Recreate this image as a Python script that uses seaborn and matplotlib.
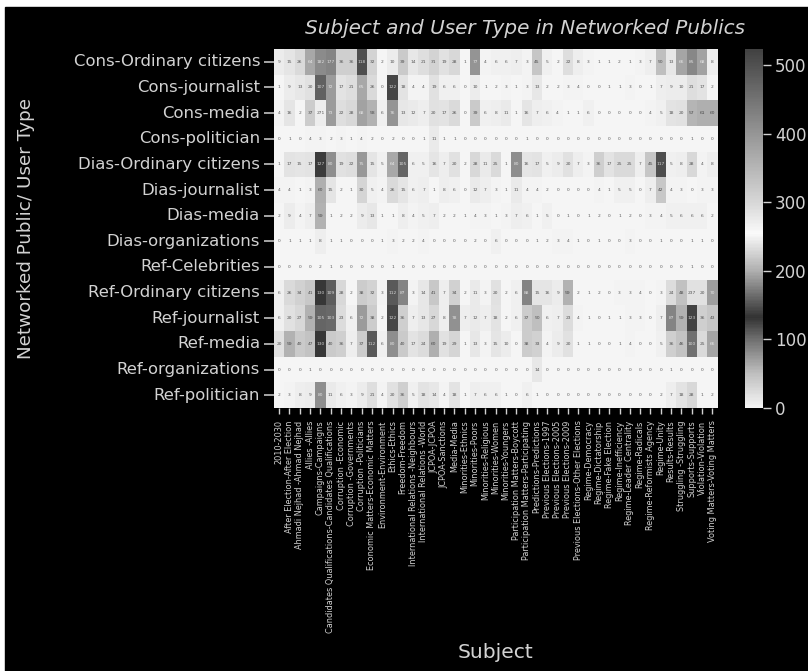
import matplotlib
matplotlib.use("Agg")
import matplotlib.pyplot as plt
from matplotlib.colors import LinearSegmentedColormap
from matplotlib.patches import Rectangle
import pandas as pd
import seaborn as sns

user_types = ["Cons-Ordinary citizens", "Cons-journalist", "Cons-media", "Cons-politician",
              "Dias-Ordinary citizens", "Dias-journalist", "Dias-media", "Dias-organizations",
              "Ref-Celebrities", "Ref-Ordinary citizens", "Ref-journalist", "Ref-media",
              "Ref-organizations", "Ref-politician"]

subjects = ["2010-2030", "After Election-After Election", "Ahmadi Nejhad -Ahmad Nejhad", "Allies -Allies",
            "Campaigns-Campaigns", "Candidates Qualifications-Candidates Qualifications",
            "Corruption -Economic", "Corruption -Governments", "Corruption -Politicians",
            "Economic Matters-Economic Matters", "Environment-Environment", "Ethics-Ethics",
            "Freedom-Freedom", "International Relations -Neighbours", "International Relations -World",
            "JCPOA-JCPOA", "JCPOA-Sanctions", "Media-Media", "Minorities-Ethnics", "Minorities-Poors",
            "Minorities-Religious", "Minorities-Women", "Minorities-Youngers", "Participation Matters-Boycott",
            "Participation Matters-Participating", "Predictions-Predictions", "Previous Elections-1997",
            "Previous Elections-2005", "Previous Elections-2009", "Previous Elections-Other Elections",
            "Regime-Democracy", "Regime-Dictatorship", "Regime-Fake Election", "Regime-Inefficiency",
            "Regime-Leader Centrality", "Regime-Radicals", "Regime-Reformists Agency", "Regime-Unity",
            "Results-Results", "Struggling -Struggling", "Supports-Supports", "Violation-Violation",
            "Voting Matters-Voting Matters"]

cons_ordinary = [9, 15, 26, 64, 182, 177, 36, 36, 118, 32, 2, 10, 39, 14, 21, 31, 19, 28, 1, 77, 4, 6,
                 6, 7, 3, 45, 5, 2, 22, 8, 3, 1, 1, 2, 1, 3, 7, 50, 13, 66, 85, 68, 8]
cons_journalist = [1, 9, 13, 20, 107, 72, 17, 21, 65, 26, 0, 122, 18, 4, 4, 19, 6, 6, 0, 10, 1, 2,
                   3, 1, 3, 13, 2, 2, 3, 4, 0, 0, 1, 1, 3, 0, 1, 7, 9, 10, 21, 17, 2]
cons_media = [4, 16, 2, 37, 271, 73, 22, 28, 68, 58, 6, 76, 13, 12, 7, 20, 17, 26, 0, 39, 6, 8,
              11, 1, 16, 7, 6, 4, 1, 1, 6, 0, 0, 0, 0, 0, 4, 5, 18, 20, 57, 61, 60]
cons_politician = [0, 1, 0, 4, 3, 2, 3, 1, 4, 2, 0, 2, 0, 0, 1, 11, 1, 1, 0, 0, 0, 0,
                   0, 0, 1, 0, 0, 0, 0, 0, 0, 0, 0, 0, 0, 0, 0, 0, 0, 0, 1, 0, 0]
dias_ordinary = [1, 17, 15, 17, 127, 80, 19, 22, 75, 15, 5, 64, 105, 6, 5, 16, 7, 20, 2, 28, 11, 25,
                 1, 80, 16, 17, 5, 9, 20, 7, 3, 36, 17, 25, 25, 7, 45, 117, 5, 8, 28, 4, 8]
dias_journalist = [4, 4, 1, 3, 60, 15, 2, 1, 30, 5, 4, 26, 15, 6, 7, 1, 8, 6, 0, 12, 7, 3,
                   1, 11, 4, 4, 2, 0, 0, 0, 0, 4, 1, 5, 5, 0, 7, 42, 4, 3, 0, 3, 3]
dias_media = [2, 9, 4, 7, 59, 1, 2, 2, 9, 13, 1, 1, 8, 4, 5, 7, 2, 2, 1, 4, 3, 1,
              3, 7, 6, 1, 5, 0, 1, 0, 1, 2, 0, 1, 2, 0, 3, 4, 5, 6, 6, 6, 2]
dias_orgs = [0, 1, 1, 1, 8, 1, 1, 0, 0, 0, 1, 3, 2, 2, 4, 0, 0, 0, 0, 2, 0, 6,
             0, 0, 0, 1, 2, 3, 4, 1, 0, 1, 0, 0, 3, 0, 0, 1, 0, 0, 1, 1, 0]
ref_celebrities = [0, 0, 0, 0, 2, 1, 0, 0, 0, 0, 0, 1, 0, 0, 0, 0, 0, 0, 0, 0, 0, 0,
                   0, 0, 0, 0, 0, 0, 0, 0, 0, 0, 0, 0, 0, 0, 0, 0, 0, 0, 1, 0, 0]
ref_ordinary = [6, 26, 34, 41, 130, 109, 28, 2, 38, 32, 3, 112, 87, 3, 14, 41, 7, 34, 2, 11, 3, 20,
                2, 6, 88, 15, 16, 9, 59, 2, 1, 2, 0, 3, 3, 4, 0, 3, 24, 48, 237, 20, 70]
ref_journalist = [6, 20, 27, 59, 105, 103, 23, 6, 72, 38, 2, 122, 36, 7, 13, 27, 8, 78, 7, 12, 7, 18,
                  2, 6, 37, 50, 6, 7, 23, 4, 1, 0, 1, 1, 3, 3, 0, 7, 87, 59, 123, 36, 43]
ref_media = [20, 59, 40, 47, 130, 40, 36, 7, 37, 112, 6, 80, 40, 17, 24, 60, 19, 29, 1, 13, 3, 15,
             10, 0, 38, 33, 4, 9, 20, 1, 1, 0, 0, 1, 4, 0, 0, 5, 36, 46, 100, 25, 66]
ref_orgs = [0, 0, 0, 1, 0, 0, 0, 0, 0, 0, 0, 0, 0, 0, 0, 0, 0, 0, 0, 0, 0, 0,
            0, 0, 0, 14, 0, 0, 0, 0, 0, 0, 0, 0, 0, 0, 0, 0, 1, 0, 0, 0, 0]
ref_politician = [2, 3, 8, 9, 80, 11, 6, 3, 9, 21, 4, 20, 36, 5, 18, 14, 4, 18, 1, 7, 6, 6,
                  1, 0, 6, 1, 0, 0, 0, 0, 0, 0, 0, 0, 0, 0, 0, 2, 7, 18, 28, 1, 2]

df = pd.DataFrame([cons_ordinary, cons_journalist, cons_media, cons_politician,
                   dias_ordinary, dias_journalist, dias_media, dias_orgs,
                   ref_celebrities, ref_ordinary, ref_journalist, ref_media,
                   ref_orgs, ref_politician], index=user_types, columns=subjects)

TXT = "#d2d2d2"
VMAX = 524

# colour scale went to grey in the scan, so it dips dark and comes back to white
stops = [(0, 245), (50, 190), (100, 110), (132, 50), (165, 110), (200, 175),
         (255, 250), (300, 215), (400, 150), (VMAX, 65)]
grey_map = LinearSegmentedColormap.from_list(
    "scan_grey", [(v / VMAX, (g / 255, g / 255, g / 255)) for v, g in stops])

W, H = 808, 671
fig = plt.figure(figsize=(W / 100, H / 100), dpi=100, facecolor="white")
fig.add_artist(Rectangle((5 / W, 0), 1, 1 - 7 / H, transform=fig.transFigure, color="black", zorder=-5))

ax = fig.add_axes([274 / W, 1 - 408 / H, 443.5 / W, 359 / H])
cax = fig.add_axes([745 / W, 1 - 408 / H, 17.5 / W, 359 / H])

sns.heatmap(df, ax=ax, cbar_ax=cax, cmap=grey_map, vmin=0, vmax=VMAX, annot=True, fmt="d",
            annot_kws={"fontsize": 3.2, "alpha": 0.75}, xticklabels=True, yticklabels=True)

ax.set_title("Subject and User Type in Networked Publics", fontsize=14.45, style="italic",
             color=TXT, x=0.566, pad=11)
ax.set_xlabel("Subject", fontsize=14.6, color=TXT)
ax.xaxis.set_label_coords(0.5, -0.655)
ax.set_ylabel("Networked Public/ User Type", fontsize=13.2, color=TXT)
ax.yaxis.set_label_coords(-0.538, 0.5)

ax.tick_params(axis="y", colors=TXT, labelsize=11.85, length=7, width=1.1, rotation=0, pad=3)
ax.tick_params(axis="x", colors=TXT, labelsize=5.9, length=4, width=1, rotation=90, pad=5)

cax.tick_params(colors=TXT, labelsize=12, length=6, width=1, pad=3)
cax.set_yticks([0, 100, 200, 300, 400, 500])

fig.savefig("out.png", dpi=100, facecolor=fig.get_facecolor())
plt.close()
